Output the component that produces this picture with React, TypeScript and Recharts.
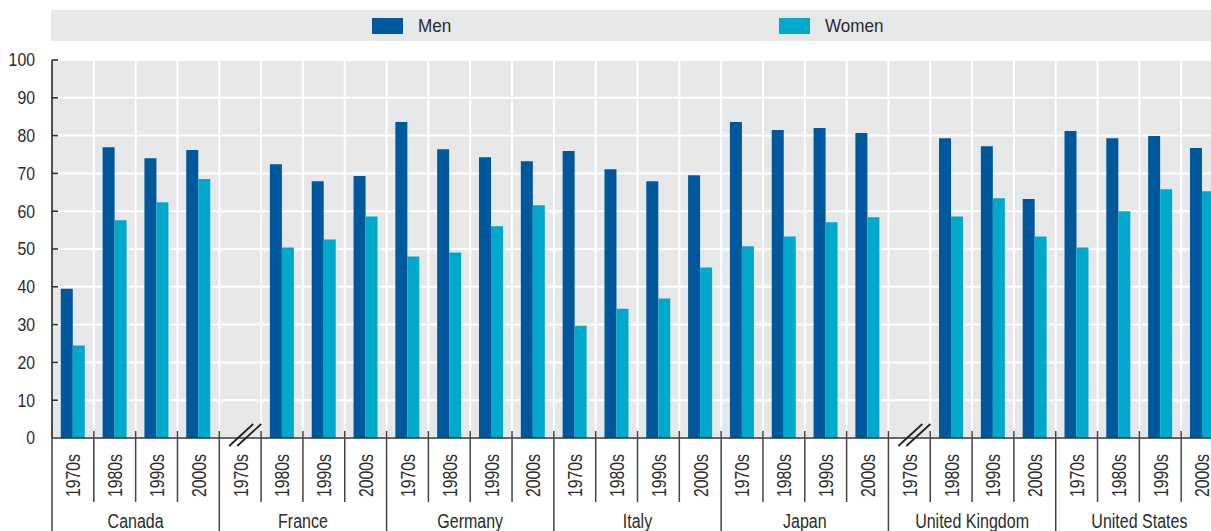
import React from 'react';
import { BarChart, Bar, XAxis, YAxis, CartesianGrid } from 'recharts';

const countries = ['Canada', 'France', 'Germany', 'Italy', 'Japan', 'United Kingdom', 'United States'];
const decades = ['1970s', '1980s', '1990s', '2000s'];

// Men values, 4 decades per country (null = no data)
const menValues: (number | null)[] = [
  39.5, 76.9, 74.0, 76.2, // Canada
  null, 72.4, 67.9, 69.3, // France
  83.6, 76.4, 74.3, 73.2, // Germany
  75.9, 71.1, 67.9, 69.5, // Italy
  83.6, 81.5, 82.0, 80.7, // Japan
  null, 79.3, 77.2, 63.2, // United Kingdom
  81.2, 79.3, 79.9, 76.7, // United States
];

const womenValues: (number | null)[] = [
  24.5, 57.6, 62.4, 68.5,
  null, 50.4, 52.5, 58.6,
  48.0, 49.1, 56.0, 61.6,
  29.7, 34.2, 36.9, 45.1,
  50.7, 53.3, 57.1, 58.4,
  null, 58.6, 63.4, 53.3,
  50.4, 60.0, 65.8, 65.3,
];

const yTicks = [0, 10, 20, 30, 40, 50, 60, 70, 80, 90, 100];
const seriesKeys = ['men', 'women'];
const seriesNames = ['Men', 'Women'];
const seriesColors = ['#00589c', '#00a9cc'];

const data = countries.flatMap((country, ci) =>
  decades.map((decade, di) => ({
    cat: `${country}|${decade}`,
    country,
    decade,
    men: menValues[ci * decades.length + di],
    women: womenValues[ci * decades.length + di],
  }))
);

const FONT = "'Liberation Sans', Arial, sans-serif";
const TEXT = '#2b2b2b';
const CHART_W = 1223;
const CHART_H = 531;
const Y_W = 52;
const X_H = 93;
const BAND = (CHART_W - Y_W) / data.length;

const NarrowText = ({
  x,
  y,
  anchor,
  size,
  squeeze,
  rotate = 0,
  dy,
  children,
}: {
  x: number;
  y: number;
  anchor: 'start' | 'middle' | 'end';
  size: number;
  squeeze: number;
  rotate?: number;
  dy?: string;
  children: React.ReactNode;
}) => (
  <g transform={`translate(${x},${y}) rotate(${rotate}) scale(${squeeze},1)`}>
    <text x={0} y={0} dy={dy} textAnchor={anchor} fontFamily={FONT} fontSize={size} fill={TEXT}>
      {children}
    </text>
  </g>
);

const XTick = (props: any) => {
  const { x, y, payload } = props;
  const idx: number = props.index ?? payload.index;
  const row = data[idx];
  if (!row) return null;
  const left = x - BAND / 2;
  const groupStart = idx % decades.length === 0;
  const missing = row.men == null && row.women == null;
  return (
    <g>
      <line x1={left} x2={left} y1={y - 7} y2={groupStart ? CHART_H : y + 64} stroke="#444" strokeWidth={1.5} />
      {idx === data.length - 1 && (
        <line x1={x + BAND / 2} x2={x + BAND / 2} y1={y - 7} y2={CHART_H} stroke="#444" strokeWidth={1.5} />
      )}
      <NarrowText x={x} y={y + 16} rotate={-90} anchor="end" size={20.5} squeeze={0.77} dy="0.36em">
        {row.decade}
      </NarrowText>
      {idx % decades.length === 2 && (
        <NarrowText x={left} y={y + 90} anchor="middle" size={20} squeeze={0.8}>
          {row.country}
        </NarrowText>
      )}
      {missing && (
        <g stroke="#222" strokeWidth={1.8}>
          <line x1={x - 11} y1={y + 8} x2={x + 13} y2={y - 14} />
          <line x1={x - 3} y1={y + 8} x2={x + 21} y2={y - 14} />
        </g>
      )}
    </g>
  );
};

const YTick = (props: any) => {
  const { x, y, payload } = props;
  return (
    <g>
      {payload.value !== 0 && (
        <line x1={Y_W} x2={Y_W + 6} y1={y} y2={y} stroke="#333" strokeWidth={1.6} />
      )}
      <NarrowText x={x} y={y} anchor="end" size={18} squeeze={0.88} dy="0.36em">
        {payload.value}
      </NarrowText>
    </g>
  );
};

const legendPos = [372, 779];

export default function App() {
  return (
    <div
      style={{
        position: 'absolute',
        left: 0,
        top: 0,
        width: 1211,
        height: 531,
        overflow: 'hidden',
        background: '#fff',
      }}
    >
      <div
        style={{
          position: 'absolute',
          left: 51,
          top: 10,
          width: 1160,
          height: 31,
          background: '#e6e7e9',
        }}
      >
        {seriesNames.map((name, i) => (
          <React.Fragment key={name}>
            <div
              style={{
                position: 'absolute',
                left: legendPos[i] - 51,
                top: 8,
                width: 31,
                height: 16,
                background: seriesColors[i],
              }}
            />
            <div
              style={{
                position: 'absolute',
                left: legendPos[i] - 51 + 46,
                top: 0,
                height: 31,
                lineHeight: '31px',
                fontFamily: FONT,
                fontSize: 19,
                color: TEXT,
                whiteSpace: 'nowrap',
                transform: 'scaleX(0.9)',
                transformOrigin: 'left center',
              }}
            >
              {name}
            </div>
          </React.Fragment>
        ))}
      </div>
      <BarChart
        width={CHART_W}
        height={CHART_H}
        data={data}
        margin={{ top: 60, right: 0, left: 0, bottom: 0 }}
        barCategoryGap="21%"
        barGap={0}
      >
        <CartesianGrid
          fill="#e6e7e9"
          stroke="#ffffff"
          strokeWidth={2}
          verticalCoordinatesGenerator={({ offset }: any) =>
            data.map((_, i) => offset.left + (i * offset.width) / data.length)
          }
        />
        <XAxis
          dataKey="cat"
          interval={0}
          height={X_H}
          tickSize={0}
          tickMargin={0}
          tickLine={false}
          axisLine={{ stroke: '#333', strokeWidth: 1.7 }}
          tick={(p: any) => <XTick {...p} />}
        />
        <YAxis
          width={Y_W}
          domain={[0, 100]}
          ticks={yTicks}
          interval={0}
          tickSize={0}
          tickMargin={17}
          tickLine={false}
          axisLine={{ stroke: '#333', strokeWidth: 1.7 }}
          tick={(p: any) => <YTick {...p} />}
        />
        {seriesKeys.map((k, i) => (
          <Bar key={k} dataKey={k} name={seriesNames[i]} fill={seriesColors[i]} isAnimationActive={false} />
        ))}
      </BarChart>
    </div>
  );
}
